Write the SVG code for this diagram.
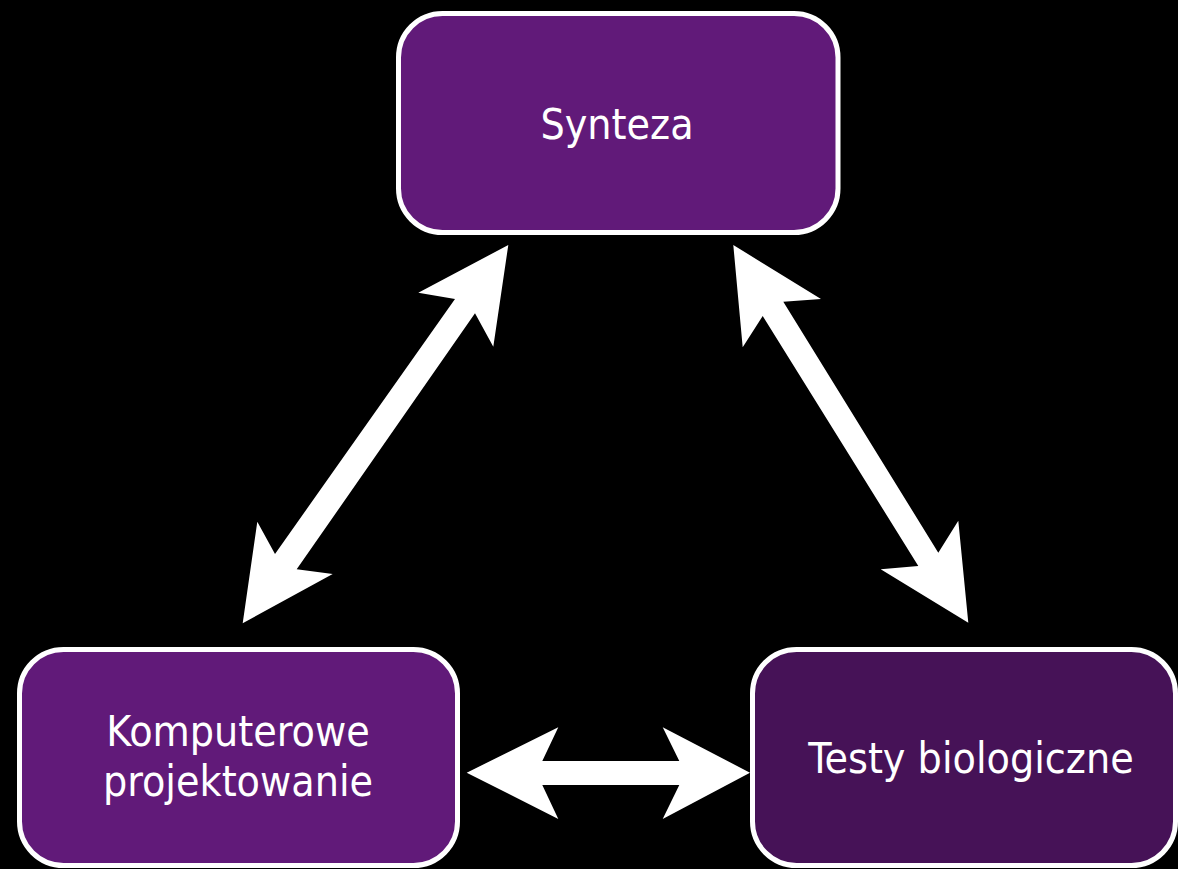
<svg xmlns="http://www.w3.org/2000/svg" width="1178" height="869" viewBox="0 0 1178 869">
<style>
.box{stroke:#ffffff;stroke-width:5}
.lbl{font-family:"DejaVu Sans Condensed","DejaVu Sans",sans-serif;font-size:42.5px;fill:#ffffff;text-anchor:middle}
.arr{fill:#ffffff}
</style>
<rect x="0" y="0" width="1178" height="869" fill="#000000"/>
<g id="node-synteza">
<rect class="box" x="398.5" y="13.5" width="439.5" height="219" rx="44" fill="#611a79"/>
<text class="lbl" x="617" y="139">Synteza</text>
</g>
<g id="node-komputerowe">
<rect class="box" x="19.5" y="649.5" width="438" height="216" rx="44" fill="#611a79"/>
<text class="lbl" x="238" y="746">Komputerowe</text>
<text class="lbl" x="238" y="796">projektowanie</text>
</g>
<g id="node-testy">
<rect class="box" x="752.5" y="649.5" width="423" height="216" rx="44" fill="#461257"/>
<text class="lbl" x="971" y="773">Testy biologiczne</text>
</g>
<g id="connectors">
<polygon class="arr" points="508.3,245 493.3,346.7 475,313.3 296.7,569.3 332.7,574 242.7,623.3 257.3,521.7 275,554 455,299 418.3,292.7"/>
<polygon class="arr" points="733.3,245 821,299 783.3,301.7 938.3,552.7 958.3,520.7 968.3,622.7 880.7,569.3 918.3,566 762.7,316 742.7,347.3"/>
<polygon class="arr" points="466.7,772.7 558.3,727.3 542.3,761 679.3,761 662.7,727.3 750,772.7 662.7,819 679.3,785 542.3,785 558.3,819"/>
</g>
</svg>
